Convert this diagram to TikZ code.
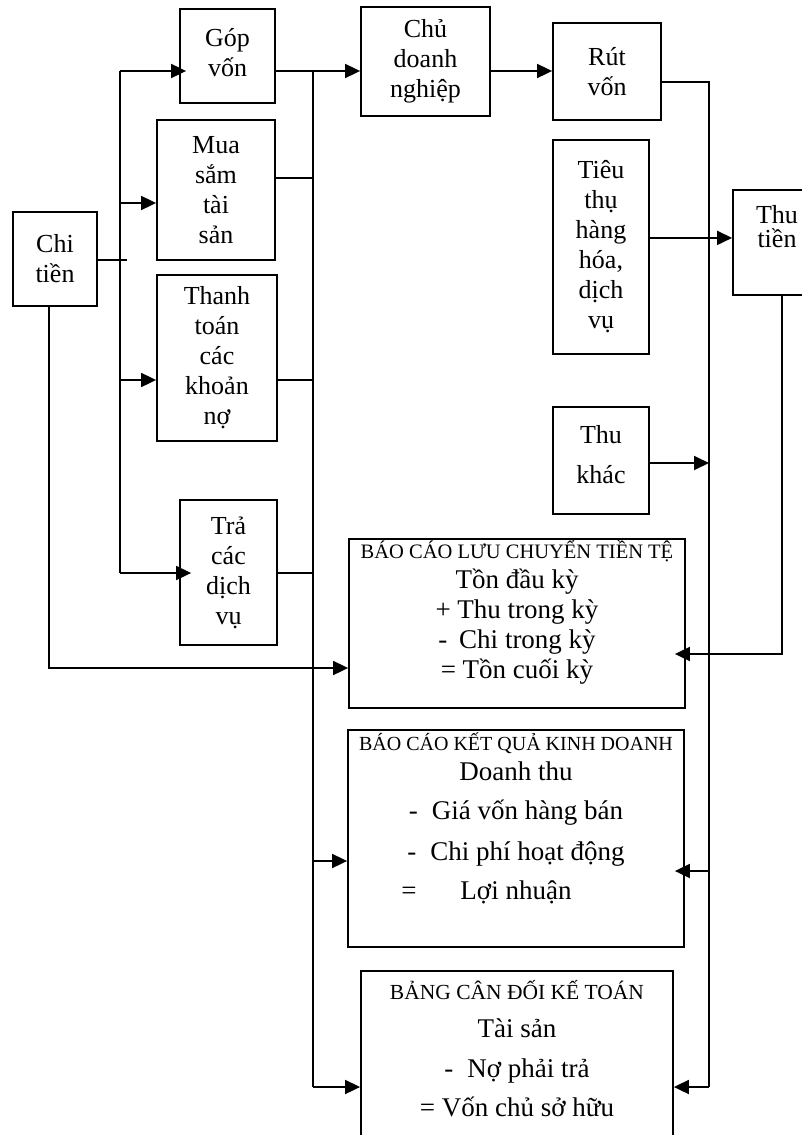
\documentclass[tikz,border=0pt]{standalone}
\usepackage{fontspec}
\setmainfont{Liberation Serif}
\usetikzlibrary{arrows.meta}
\newcommand{\rtitle}[2][20]{\rule{0pt}{18pt}\smash{\fontsize{#1}{24}\selectfont #2}}

\begin{document}
\begin{tikzpicture}[
  x=1pt,y=-1pt,
  box/.style={draw,line width=1.8pt,align=center,inner sep=0pt,
    font={\fontsize{26}{30}\selectfont\lineskiplimit=-30pt}},
  report/.style={box,anchor=north,minimum width=336pt,
    font={\fontsize{27}{30}\selectfont\lineskiplimit=-30pt}},
  link/.style={line width=1.8pt},
  arrow/.style={link,-{Triangle[length=15pt,width=14pt]}}
]
\useasboundingbox (0,0) rectangle (801,1135);

% chi tien
\node[box,minimum width=84pt,minimum height=94pt] (chi) at (55,259) {Chi\\tiền};
\node[box,minimum width=95pt,minimum height=94pt] (gop) at (227.5,56) {Góp\\vốn\\[-22pt]\mbox{}};
\node[box,minimum width=118pt,minimum height=140pt] (mua) at (216,190) {Mua\\sắm\\tài\\sản};
\node[box,minimum width=120pt,minimum height=166pt] (thanh) at (217,358) {Thanh\\toán\\các\\khoản\\nợ};
\node[box,minimum width=97pt,minimum height=145pt] (tra) at (228.5,572.5) {Trả\\các\\dịch\\vụ};
\node[box,minimum width=129pt,minimum height=109pt] (chu) at (425.5,61.5) {Chủ\\doanh\\nghiệp};
\node[box,minimum width=108pt,minimum height=97pt] (rut) at (607,71.5) {Rút\\vốn};

% thu tien
\node[box,minimum width=96pt,minimum height=214pt] (tieu) at (601,247) {Tiêu\\thụ\\hàng\\hóa,\\dịch\\vụ\\[-24pt]\mbox{}};
\node[box,anchor=north,minimum width=88pt,inner ysep=16pt] (thutien) at (777,189) {Thu\\[-6pt]tiền\\[1pt]\mbox{}};
\node[box,minimum width=96pt,minimum height=107pt] (thukhac) at (601,460.5) {Thu\\[10pt]khác\\[-18pt]\mbox{}};

% bao cao
\node[report,inner ysep=2pt] (bclc) at (517,538) {\rtitle[20.5]{BÁO CÁO LƯU CHUYỂN TIỀN TỆ}\\
  Tồn đầu kỳ\\
  + Thu trong kỳ\\
  -\hspace{12pt}Chi trong kỳ\\
  = Tồn cuối kỳ\\[-3pt]\mbox{}};
\node[report,inner ysep=3pt] (bckq) at (516,729) {\rtitle{BÁO CÁO KẾT QUẢ KINH DOANH}\\
  Doanh thu\\[9pt]
  -\hspace{14pt}Giá vốn hàng bán\\[11pt]
  -\hspace{14pt}Chi phí hoạt động\\[9pt]
  \makebox[0pt][r]{=\hspace{44pt}}Lợi nhuận\\[14pt]\mbox{}};
\node[report,inner ysep=11pt,minimum width=312pt] (bcdkt) at (517,970) {\rtitle[21.5]{BẢNG CÂN ĐỐI KẾ TOÁN}\\[8pt]
  Tài sản\\[10pt]
  -\hspace{14pt}Nợ phải trả\\[9pt]
  = Vốn chủ sở hữu\\[20pt]\mbox{}};

% left bus
\coordinate (lb1) at (120,71);
\coordinate (lb2) at (120,203);
\coordinate (lb3) at (120,380);
\coordinate (lb4) at (120,573);
\coordinate (chistub) at (127,260);
\coordinate (chiturn) at (49,668);
\draw[link] (lb1) -- (lb4);
\draw[link] (chi.east |- chistub) -- (chistub);
\draw[arrow,shorten >=-7pt] (lb1) -- (lb1 -| gop.west);
\draw[arrow] (lb2) -- (lb2 -| mua.west);
\draw[arrow] (lb3) -- (lb3 -| thanh.west);
\draw[arrow,shorten >=-12pt] (lb4) -- (lb4 -| tra.west);
\draw[arrow] (chi.south -| chiturn) |- (bclc.west |- chiturn);

% middle bus
\coordinate (mb1) at (313,71);
\coordinate (mbmua) at (313,178);
\coordinate (mbthanh) at (313,380);
\coordinate (mbtra) at (313,573);
\coordinate (mbkq) at (313,861);
\coordinate (mb2) at (313,1087);
\draw[link] (mb1) -- (mb2);
\draw[arrow] (gop.east |- mb1) -- (chu.west |- mb1);
\draw[arrow] (chu.east |- mb1) -- (rut.west |- mb1);
\draw[link] (mua.east |- mbmua) -- (mbmua);
\draw[link] (thanh.east |- mbthanh) -- (mbthanh);
\draw[link] (tra.east |- mbtra) -- (mbtra);
\draw[arrow] (mbkq) -- (mbkq -| bckq.west);
\draw[arrow] (mb2) -- (mb2 -| bcdkt.west);

% right bus
\coordinate (rb1) at (709,82);
\coordinate (rbkhac) at (709,463);
\coordinate (rbkq) at (709,871);
\coordinate (rb2) at (709,1087);
\coordinate (thuin) at ([yshift=4.5pt]thutien.west);
\coordinate (thuout) at (782,654);
\draw[link] (rut.east |- rb1) -| (rb2);
\draw[arrow] (tieu.east |- thuin) -- (thuin);
\draw[arrow] (thukhac.east |- rbkhac) -- (rbkhac);
\draw[arrow,shorten >=-10pt] (rbkq) -- (rbkq -| bckq.east);
\draw[arrow] (rb2) -- (rb2 -| bcdkt.east);
\draw[arrow,shorten >=-11pt] (thutien.south -| thuout) |- (bclc.east |- thuout);
\end{tikzpicture}
\end{document}
